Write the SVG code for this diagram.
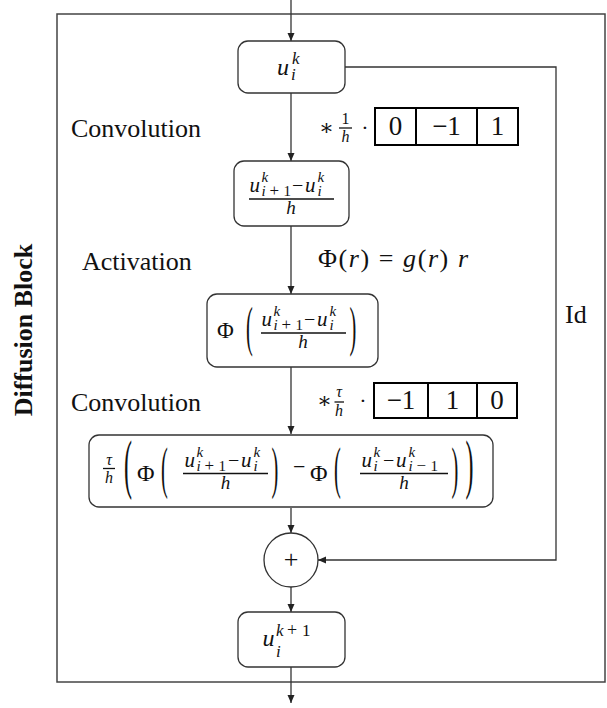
<svg xmlns="http://www.w3.org/2000/svg" width="607" height="708" viewBox="0 0 607 708">
<defs>
<marker id="ah" markerUnits="userSpaceOnUse" markerWidth="9" markerHeight="8" refX="8" refY="3.5" orient="auto">
<path d="M0,0 L8,3.5 L0,7 z" fill="#222"/>
</marker>
<style>
text { font-family: "Liberation Serif", "DejaVu Serif", serif; fill: #111; }
.i { font-style: italic; }
.node { fill: #fff; stroke: #333; stroke-width: 1.3; }
.conn { fill: none; stroke: #333; stroke-width: 1.3; }
.kern { fill: none; stroke: #000; stroke-width: 2; }
.bar { stroke: #111; stroke-width: 1.3; }
.lab { font-size: 26px; }
.k { font-size: 27px; text-anchor: middle; }
.u { font-size: 21px; font-style: italic; }
.s { font-size: 15px; font-style: italic; }
.op { font-size: 17px; }
.sr { font-size: 15px; }
</style>
</defs>
<rect x="57" y="14" width="548" height="668" fill="none" stroke="#444" stroke-width="1.5"/>
<text class="lab" font-weight="bold" text-anchor="middle" transform="translate(32,330) rotate(-90)">Diffusion Block</text>
<text class="lab" x="71" y="137">Convolution</text>
<text class="lab" x="82" y="270">Activation</text>
<text class="lab" x="71" y="411">Convolution</text>
<text class="lab" x="565" y="323">Id</text>

<g id="connectors">
<line class="conn" x1="291" y1="0" x2="291" y2="41" marker-end="url(#ah)"/>
<line class="conn" x1="291" y1="93" x2="291" y2="161" marker-end="url(#ah)"/>
<line class="conn" x1="291" y1="226" x2="291" y2="294" marker-end="url(#ah)"/>
<line class="conn" x1="291" y1="367" x2="291" y2="434" marker-end="url(#ah)"/>
<line class="conn" x1="291" y1="508" x2="291" y2="533" marker-end="url(#ah)"/>
<line class="conn" x1="291" y1="587" x2="291" y2="612" marker-end="url(#ah)"/>
<line class="conn" x1="291" y1="667" x2="291" y2="703" marker-end="url(#ah)"/>
<path class="conn" d="M345,67 H556 V560 H318" marker-end="url(#ah)"/>
</g>

<g id="node-uk">
<rect class="node" x="238" y="41" width="107" height="52" rx="10"/>
<text class="i" x="277" y="74.5" font-size="24">u</text>
<text class="i" x="292" y="63.5" font-size="17">k</text>
<text class="i" x="291" y="80" font-size="17">i</text>
</g>

<g id="kernel1">
<text x="319" y="135" font-size="22">∗</text>
<text x="345.5" y="124" font-size="16" text-anchor="middle">1</text>
<line class="bar" x1="339" y1="128" x2="352" y2="128"/>
<text class="i" x="345.5" y="142" font-size="16" text-anchor="middle">h</text>
<text x="365" y="135" font-size="22" text-anchor="middle">·</text>
<rect class="kern" x="375" y="108" width="143" height="37"/>
<line class="kern" x1="416" y1="108" x2="416" y2="145"/>
<line class="kern" x1="477" y1="108" x2="477" y2="145"/>
<text class="k" x="395.5" y="134.5">0</text>
<text class="k" x="446.5" y="134.5">−1</text>
<text class="k" x="497.5" y="134.5">1</text>
</g>

<g id="node-diff">
<rect class="node" x="234" y="161" width="115" height="65" rx="10"/>
<text class="u" x="249.5" y="192">u</text>
<text class="s" x="261.5" y="182">k</text>
<text class="s" x="261.5" y="196">i</text>
<text class="op" x="269.5" y="196">+</text>
<text class="sr" x="283.5" y="196">1</text>
<text x="292" y="192" font-size="20">−</text>
<text class="u" x="305" y="192">u</text>
<text class="s" x="317.5" y="182">k</text>
<text class="s" x="317.5" y="196">i</text>
<line class="bar" x1="249" y1="199" x2="334" y2="199"/>
<text class="i" x="291" y="214" font-size="19" text-anchor="middle">h</text>
</g>

<g id="activation">
<text x="318" y="267" font-size="26" textLength="150">Φ(<tspan class="i">r</tspan>) = <tspan class="i">g</tspan>(<tspan class="i">r</tspan>) <tspan class="i">r</tspan></text>
</g>

<g id="node-phi">
<rect class="node" x="207" y="294" width="171" height="73" rx="10"/>
<text x="217" y="338" font-size="23">Φ</text>
<text font-size="34" transform="translate(246,345) scale(0.6,1.62)">(</text>
<text class="u" x="261.5" y="326">u</text>
<text class="s" x="273.5" y="316">k</text>
<text class="s" x="273.5" y="330">i</text>
<text class="op" x="281.5" y="330">+</text>
<text class="sr" x="295.5" y="330">1</text>
<text x="304" y="326" font-size="20">−</text>
<text class="u" x="317" y="326">u</text>
<text class="s" x="329.5" y="316">k</text>
<text class="s" x="329.5" y="330">i</text>
<line class="bar" x1="261" y1="333" x2="346" y2="333"/>
<text class="i" x="303" y="348" font-size="19" text-anchor="middle">h</text>
<text font-size="34" transform="translate(349.5,345) scale(0.6,1.62)">)</text>
</g>

<g id="kernel2">
<text x="317" y="408" font-size="22">∗</text>
<text class="i" x="339" y="397" font-size="16" text-anchor="middle">τ</text>
<line class="bar" x1="334.5" y1="402" x2="344" y2="402"/>
<text class="i" x="339" y="416" font-size="16" text-anchor="middle">h</text>
<text x="363" y="408" font-size="22" text-anchor="middle">·</text>
<rect class="kern" x="374" y="383" width="143" height="35"/>
<line class="kern" x1="428" y1="383" x2="428" y2="418"/>
<line class="kern" x1="477" y1="383" x2="477" y2="418"/>
<text class="k" x="401" y="408.5">−1</text>
<text class="k" x="452.5" y="408.5">1</text>
<text class="k" x="497" y="408.5">0</text>
</g>

<g id="node-update">
<rect class="node" x="89" y="435" width="404" height="72" rx="10"/>
<text class="i" x="109" y="465" font-size="16" text-anchor="middle">τ</text>
<line class="bar" x1="103" y1="468.5" x2="115" y2="468.5"/>
<text class="i" x="109" y="482.5" font-size="16" text-anchor="middle">h</text>
<text font-size="40" transform="translate(124,486) scale(0.6,1.65)">(</text>
<text x="137" y="481" font-size="24">Φ</text>
<text font-size="34" transform="translate(161,487) scale(0.6,1.65)">(</text>
<text class="u" x="184.5" y="467">u</text>
<text class="s" x="196.5" y="457">k</text>
<text class="s" x="196.5" y="471">i</text>
<text class="op" x="204.5" y="471">+</text>
<text class="sr" x="218.5" y="471">1</text>
<text x="228" y="467" font-size="20">−</text>
<text class="u" x="241" y="467">u</text>
<text class="s" x="253.5" y="457">k</text>
<text class="s" x="253.5" y="471">i</text>
<line class="bar" x1="183" y1="473.5" x2="268" y2="473.5"/>
<text class="i" x="225.5" y="488.5" font-size="19" text-anchor="middle">h</text>
<text font-size="34" transform="translate(271.5,487) scale(0.6,1.65)">)</text>
<text x="293" y="473.5" font-size="22">−</text>
<text x="310" y="481" font-size="24">Φ</text>
<text font-size="34" transform="translate(334,487) scale(0.6,1.65)">(</text>
<text class="u" x="361.5" y="467">u</text>
<text class="s" x="373.5" y="457">k</text>
<text class="s" x="373.5" y="471">i</text>
<text x="383" y="467" font-size="20">−</text>
<text class="u" x="396" y="467">u</text>
<text class="s" x="408.5" y="457">k</text>
<text class="s" x="408.5" y="471">i</text>
<text class="op" x="416.5" y="471">−</text>
<text class="sr" x="430.5" y="471">1</text>
<line class="bar" x1="360" y1="473.5" x2="448" y2="473.5"/>
<text class="i" x="404" y="488.5" font-size="19" text-anchor="middle">h</text>
<text font-size="34" transform="translate(451.5,487) scale(0.6,1.65)">)</text>
<text font-size="40" transform="translate(465.5,486) scale(0.6,1.65)">)</text>
</g>

<g id="node-plus">
<circle cx="291" cy="560" r="27" fill="#fff" stroke="#333" stroke-width="1.3"/>
<text x="291" y="568" font-size="26" text-anchor="middle">+</text>
</g>

<g id="node-uk1">
<rect class="node" x="238" y="612" width="107" height="55" rx="10"/>
<text class="i" x="262.5" y="646" font-size="24">u</text>
<text class="i" x="276" y="636" font-size="17">k</text>
<text x="287" y="636" font-size="18">+</text>
<text x="302" y="636" font-size="17">1</text>
<text class="i" x="276" y="656.5" font-size="17">i</text>
</g>
</svg>
